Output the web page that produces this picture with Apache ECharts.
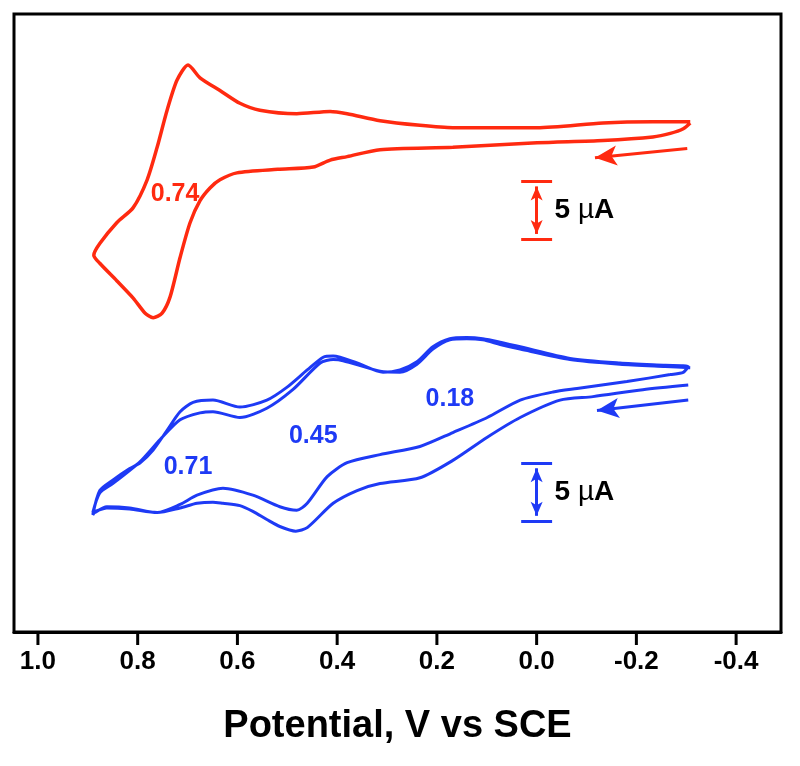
<!DOCTYPE html>
<html>
<head>
<meta charset="utf-8">
<script src="https://cdn.jsdelivr.net/npm/echarts@6/dist/echarts.min.js"></script>
<style>
html,body{margin:0;padding:0;background:#fff;}
#chart{width:800px;height:766px;}
</style>
</head>
<body>
<div id="chart"></div>
<script>
// potential (V vs SCE), current (uA, arbitrary offset per trace)
var redCV = [
  [-0.308, 43.9], [-0.294, 43.4], [-0.268, 43.0], [-0.233, 42.7], [-0.133, 42.4],
  [-0.001, 42.2], [0.168, 41.8], [0.314, 41.6], [0.380, 41.0], [0.414, 40.7],
  [0.448, 40.1], [0.519, 39.9], [0.601, 39.6], [0.635, 39.0], [0.655, 38.3],
  [0.675, 37.2], [0.695, 35.3], [0.715, 32.3], [0.735, 28.9], [0.751, 27.5],
  [0.769, 27.1], [0.785, 27.5], [0.809, 28.8], [0.842, 30.3], [0.876, 31.8],
  [0.888, 32.5], [0.876, 33.5], [0.842, 35.3], [0.809, 36.6], [0.781, 39.0],
  [0.761, 41.8], [0.741, 45.0], [0.721, 47.6], [0.699, 48.9], [0.675, 47.8],
  [0.635, 46.7], [0.595, 45.6], [0.555, 45.0], [0.481, 44.7], [0.414, 44.9],
  [0.380, 44.7], [0.314, 44.1], [0.234, 43.7], [0.168, 43.5], [-0.001, 43.5],
  [-0.133, 43.9], [-0.233, 44.0], [-0.308, 44.0]
];

var blueCV = [
  // first sweep
  [-0.304, 21.3], [-0.213, 20.9], [-0.113, 20.3], [-0.047, 20.0], [0.033, 18.5],
  [0.099, 16.8], [0.168, 14.8], [0.234, 13.3], [0.314, 12.8], [0.360, 12.2],
  [0.408, 11.1], [0.460, 9.0], [0.483, 8.7], [0.515, 9.1], [0.541, 9.7],
  [0.569, 10.4], [0.595, 10.9], [0.629, 11.1], [0.649, 11.2], [0.681, 11.1],
  [0.715, 10.7], [0.761, 10.3], [0.816, 10.7], [0.862, 10.8], [0.886, 10.3],
  [0.890, 10.1],
  [0.876, 12.2], [0.850, 13.1], [0.816, 14.1], [0.795, 14.6], [0.769, 15.7],
  [0.741, 17.4], [0.715, 19.0], [0.689, 19.8], [0.649, 20.0], [0.595, 19.4],
  [0.541, 20.0], [0.501, 21.1], [0.460, 22.6], [0.428, 23.7], [0.408, 23.8],
  [0.360, 23.2], [0.308, 22.4], [0.274, 22.6], [0.240, 23.3], [0.208, 24.6],
  [0.174, 25.3], [0.140, 25.4], [0.108, 25.3], [0.073, 25.0], [0.033, 24.6],
  [-0.067, 23.6], [-0.167, 23.2], [-0.258, 23.0], [-0.304, 22.9],
  // second sweep
  [-0.294, 22.4], [-0.268, 22.2], [-0.181, 21.6], [-0.081, 21.0], [-0.033, 20.7],
  [0.033, 20.0], [0.099, 18.5], [0.168, 17.2], [0.234, 16.0], [0.314, 15.3],
  [0.380, 14.6], [0.420, 13.4], [0.460, 11.1], [0.481, 10.5], [0.515, 10.8],
  [0.569, 11.8], [0.629, 12.4], [0.681, 11.8], [0.715, 11.0], [0.761, 10.3],
  [0.816, 10.6], [0.862, 10.7], [0.886, 10.4], [0.890, 10.3],
  [0.876, 12.0], [0.850, 12.8], [0.795, 14.7], [0.755, 16.6], [0.715, 18.3],
  [0.675, 18.9], [0.649, 19.0], [0.595, 18.5], [0.541, 19.3], [0.489, 20.9],
  [0.434, 23.2], [0.408, 23.5], [0.388, 23.4], [0.314, 22.5], [0.274, 22.4],
  [0.240, 23.1], [0.208, 24.4], [0.174, 25.2], [0.140, 25.3], [0.108, 25.2],
  [0.073, 24.8], [0.033, 24.4], [-0.067, 23.5], [-0.167, 23.1], [-0.258, 22.9],
  [-0.308, 22.8]
];

var tickValues = [1.0, 0.8, 0.6, 0.4, 0.2, 0.0, -0.2, -0.4];

var redPeakLabels = [[0.725, 37.8, '0.74']];
var bluePeakLabels = [[0.699, 14.2, '0.71'], [0.448, 16.9, '0.45'], [0.174, 20.1, '0.18']];

// scale bars: [potential, lower current, upper current]
var redScaleBar = [0.0, 33.88, 38.88];
var blueScaleBar = [0.0, 9.57, 14.57];

// scan direction arrows: [from, to]
var redArrow = [[-0.302, 41.7], [-0.117, 40.9]];
var blueArrow = [[-0.304, 20.0], [-0.121, 19.1]];

var RED = '#ff2a10';
var BLUE = '#1e3af5';
var FONT = 'Liberation Sans';
var Y_MIN = 0, Y_MAX = 53.3;

function scaleBarLines(bar) {
  var x = bar[0], lo = bar[1], hi = bar[2], w = 0.031;
  return [
    [{coord: [x, lo + 0.45], symbol: 'arrow', symbolSize: [9, 14]},
     {coord: [x, hi - 0.45], symbol: 'arrow', symbolSize: [9, 14]}],
    [{coord: [x + w, lo], symbol: 'none'}, {coord: [x - w, lo], symbol: 'none'}],
    [{coord: [x + w, hi], symbol: 'none'}, {coord: [x - w, hi], symbol: 'none'}]
  ];
}

function arrowLine(a) {
  return [{coord: a[0], symbol: 'none'}, {coord: a[1], symbol: 'arrow', symbolSize: [15, 22]}];
}

function annotationSeries(color, bar, arrow) {
  return {
    type: 'line',
    data: [],
    silent: true,
    markLine: {
      silent: true,
      animation: false,
      label: {show: false},
      lineStyle: {color: color, width: 3, type: 'solid', opacity: 1},
      data: scaleBarLines(bar).concat([arrowLine(arrow)])
    }
  };
}

function textSeries(color, items) {
  return {
    type: 'scatter',
    symbolSize: 1,
    silent: true,
    itemStyle: {opacity: 0},
    data: items,
    label: {
      show: true,
      position: 'inside',
      opacity: 1,
      formatter: function (p) { return p.value[2]; },
      color: color,
      fontFamily: FONT,
      fontWeight: 'bold',
      fontSize: 25
    }
  };
}

function unitSeries(bar) {
  return {
    type: 'scatter',
    symbolSize: 1,
    silent: true,
    itemStyle: {opacity: 0},
    data: [[bar[0] - 0.035, (bar[1] + bar[2]) / 2]],
    label: {
      show: true,
      position: 'right',
      distance: 0,
      opacity: 1,
      formatter: function () { return '{a|5 }{b|µ}{a|A}'; },
      rich: {
        a: {color: '#000', fontFamily: FONT, fontWeight: 'bold', fontSize: 28},
        b: {color: '#000', fontFamily: FONT, fontWeight: 'normal', fontSize: 28}
      }
    }
  };
}

var chart = echarts.init(document.getElementById('chart'), null, {renderer: 'canvas'});
chart.setOption({
  animation: false,
  backgroundColor: '#fff',
  grid: {
    left: 14, right: 19, top: 14, bottom: 134,
    show: true, borderColor: '#000', borderWidth: 3, outerBoundsMode: 'none'
  },
  xAxis: {
    type: 'value',
    inverse: true,
    min: -0.49,
    max: 1.048,
    name: 'Potential, V vs SCE',
    nameLocation: 'middle',
    nameGap: 76,
    nameTextStyle: {color: '#000', fontFamily: FONT, fontWeight: 'bold', fontSize: 38},
    axisLine: {show: true, onZero: false, lineStyle: {color: '#000', width: 3}},
    axisTick: {show: false},
    axisLabel: {show: true, margin: 17, customValues: tickValues,
      color: '#000', fontFamily: FONT, fontWeight: 'bold', fontSize: 26,
      formatter: function (v) { return Math.abs(v) < 1e-9 ? '0.0' : v.toFixed(1); }},
    splitLine: {show: false}
  },
  yAxis: {
    type: 'value',
    show: false,
    min: Y_MIN,
    max: Y_MAX,
    splitLine: {show: false}
  },
  series: [
    {
      type: 'line', data: redCV, showSymbol: false, symbol: 'none', smooth: 0.25,
      lineStyle: {color: RED, width: 3.5}, silent: true
    },
    {
      type: 'line', data: blueCV, showSymbol: false, symbol: 'none', smooth: 0.25,
      lineStyle: {color: BLUE, width: 3}, silent: true
    },
    annotationSeries(RED, redScaleBar, redArrow),
    annotationSeries(BLUE, blueScaleBar, blueArrow),
    textSeries(RED, redPeakLabels),
    textSeries(BLUE, bluePeakLabels),
    unitSeries(redScaleBar),
    unitSeries(blueScaleBar)
  ]
});

// outward tick marks below the axis line, positioned by the x scale
var tickGraphics = tickValues.map(function (v) {
  var p = chart.convertToPixel({xAxisIndex: 0, yAxisIndex: 0}, [v, Y_MIN]);
  return {
    type: 'line',
    silent: true,
    z: 10,
    shape: {x1: p[0], y1: p[1], x2: p[0], y2: p[1] + 13},
    style: {stroke: '#000', lineWidth: 3}
  };
});
chart.setOption({graphic: tickGraphics});
</script>
</body>
</html>
